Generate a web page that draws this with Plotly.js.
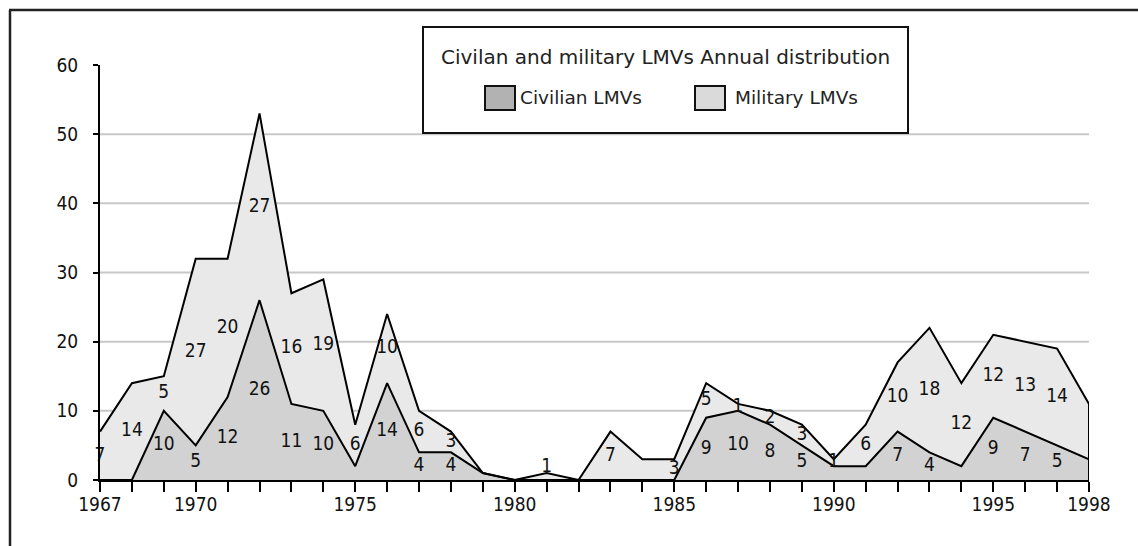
<!DOCTYPE html>
<html>
<head>
<meta charset="utf-8">
<script src="https://cdn.plot.ly/plotly-3.0.1.min.js"></script>
<style>
  html, body { margin: 0; padding: 0; background: #ffffff; }
  #chart { width: 1138px; height: 546px; }
</style>
</head>
<body>
<div id="chart"></div>
<script>
// ---- data ----
var years = [1967,1968,1969,1970,1971,1972,1973,1974,1975,1976,1977,1978,1979,1980,1981,1982,
             1983,1984,1985,1986,1987,1988,1989,1990,1991,1992,1993,1994,1995,1996,1997,1998];
var civilian = [0,0,10,5,12,26,11,10,2,14,4,4,1,0,0,0,0,0,0,9,10,8,5,2,2,7,4,2,9,7,5,3];
var military = [7,14,5,27,20,27,16,19,6,10,6,3,0,0,1,0,7,3,3,5,1,2,3,1,6,10,18,12,12,13,14,8];
var yTicks = [0,10,20,30,40,50,60];
var xLabelYears = [1967,1970,1975,1980,1985,1990,1995,1998];
var civHidden = [1975,1979,1990,1991,1994,1998];   // labels not visible in the reference
var milHidden = [1984,1998];
var legendTitle = "Civilan and military LMVs Annual distribution";
var civName = "Civilian LMVs";
var milName = "Military LMVs";

// ---- geometry helpers (pixel -> paper) ----
var L = 100, R = 49, T = 65, B = 66, W = 1138, H = 546;
var pw = W - L - R, ph = H - T - B;
function px(x) { return (x - L) / pw; }
function py(y) { return (H - B - y) / ph; }

var numFont = "DejaVu Sans Condensed, DejaVu Sans, sans-serif";
var txtFont = "DejaVu Sans, Verdana, sans-serif";
var numSize = 19;

var civLabels = civilian.map(function (v, i) {
  return (v > 0 && civHidden.indexOf(years[i]) < 0) ? String(v) : "";
});
var milLabels = military.map(function (v, i) {
  return (v > 0 && milHidden.indexOf(years[i]) < 0) ? String(v) : "";
});
var civMid = civilian.map(function (v) { return v / 2; });
var milMid = military.map(function (v, i) { return civilian[i] + v / 2; });
var milPos = military.map(function (v, i) { return (v > 0 && v < 2 && civilian[i] === 0) ? "top center" : "middle center"; });

var traces = [
  {
    x: years, y: civilian, name: civName, type: "scatter", mode: "lines",
    stackgroup: "one", line: { color: "#000000", width: 2 },
    fillcolor: "#d2d2d2", showlegend: false, hoverinfo: "x+y"
  },
  {
    x: years, y: military, name: milName, type: "scatter", mode: "lines",
    stackgroup: "one", line: { color: "#000000", width: 2 },
    fillcolor: "#e9e9e9", showlegend: false, hoverinfo: "x+y"
  },
  {
    x: years, y: civMid, text: civLabels, mode: "text", type: "scatter",
    textposition: "middle center", textfont: { family: numFont, size: numSize, color: "#111" },
    showlegend: false, hoverinfo: "skip", cliponaxis: false
  },
  {
    x: years, y: milMid, text: milLabels, mode: "text", type: "scatter",
    textposition: milPos, textfont: { family: numFont, size: numSize, color: "#111" },
    showlegend: false, hoverinfo: "skip", cliponaxis: false
  }
];

var shapes = [];
yTicks.forEach(function (t) {
  if (t > 0 && t < 60) {
    shapes.push({ type: "line", xref: "paper", yref: "y", x0: 0, x1: 1, y0: t, y1: t,
      line: { color: "#c8c8c8", width: 2 }, layer: "below" });
  }
});
var lastI = years.length - 1;
shapes.push({ type: "line", xref: "x", yref: "y", x0: years[lastI], x1: years[lastI],
  y0: 0, y1: civilian[lastI] + military[lastI], line: { color: "#000", width: 2 } });
shapes.push({ type: "line", xref: "paper", yref: "paper", x0: px(9), x1: px(1138), y0: py(10), y1: py(10),
  line: { color: "#222", width: 2.5 } });
shapes.push({ type: "line", xref: "paper", yref: "paper", x0: px(10), x1: px(10), y0: py(10), y1: py(546),
  line: { color: "#222", width: 2.5 } });
shapes.push({ type: "rect", xref: "paper", yref: "paper", x0: px(423), x1: px(908), y0: py(133), y1: py(27),
  line: { color: "#111", width: 2 }, fillcolor: "#ffffff" });
shapes.push({ type: "rect", xref: "paper", yref: "paper", x0: px(485), x1: px(515), y0: py(110), y1: py(86),
  line: { color: "#111", width: 2 }, fillcolor: "#b2b2b2" });
shapes.push({ type: "rect", xref: "paper", yref: "paper", x0: px(695), x1: px(725), y0: py(110), y1: py(86),
  line: { color: "#111", width: 2 }, fillcolor: "#dadada" });

var annotations = [
  { xref: "paper", yref: "paper", x: px(665), y: py(57), text: legendTitle, showarrow: false,
    xanchor: "center", yanchor: "middle", font: { family: txtFont, size: 20, color: "#222" } },
  { xref: "paper", yref: "paper", x: px(518), y: py(97), text: civName, showarrow: false,
    xanchor: "left", yanchor: "middle", font: { family: txtFont, size: 18.5, color: "#222" } },
  { xref: "paper", yref: "paper", x: px(733), y: py(97), text: milName, showarrow: false,
    xanchor: "left", yanchor: "middle", font: { family: txtFont, size: 18.5, color: "#222" } }
];

var layout = {
  width: W, height: H,
  margin: { l: L, r: R, t: T, b: B, pad: 0 },
  paper_bgcolor: "#ffffff", plot_bgcolor: "#ffffff",
  showlegend: false,
  font: { family: numFont, size: numSize, color: "#111" },
  xaxis: {
    range: [years[0], years[lastI]], tickvals: years,
    ticktext: years.map(function (y) { return xLabelYears.indexOf(y) >= 0 ? String(y) : ""; }),
    showgrid: false, zeroline: false, showline: true, linecolor: "#000", linewidth: 2,
    ticks: "outside", ticklen: 10, tickwidth: 2, tickcolor: "#000", ticklabelstandoff: -4,
    tickfont: { family: numFont, size: numSize, color: "#111" }, fixedrange: true
  },
  yaxis: {
    range: [0, 60], tickvals: yTicks,
    showgrid: false, zeroline: false, showline: true, linecolor: "#000", linewidth: 2,
    ticks: "outside", ticklen: 5, tickwidth: 2, tickcolor: "#000", ticklabelstandoff: 11,
    tickfont: { family: numFont, size: numSize, color: "#111" }, fixedrange: true
  },
  shapes: shapes,
  annotations: annotations
};

Plotly.newPlot("chart", traces, layout, { displayModeBar: false, staticPlot: true });
</script>
</body>
</html>
